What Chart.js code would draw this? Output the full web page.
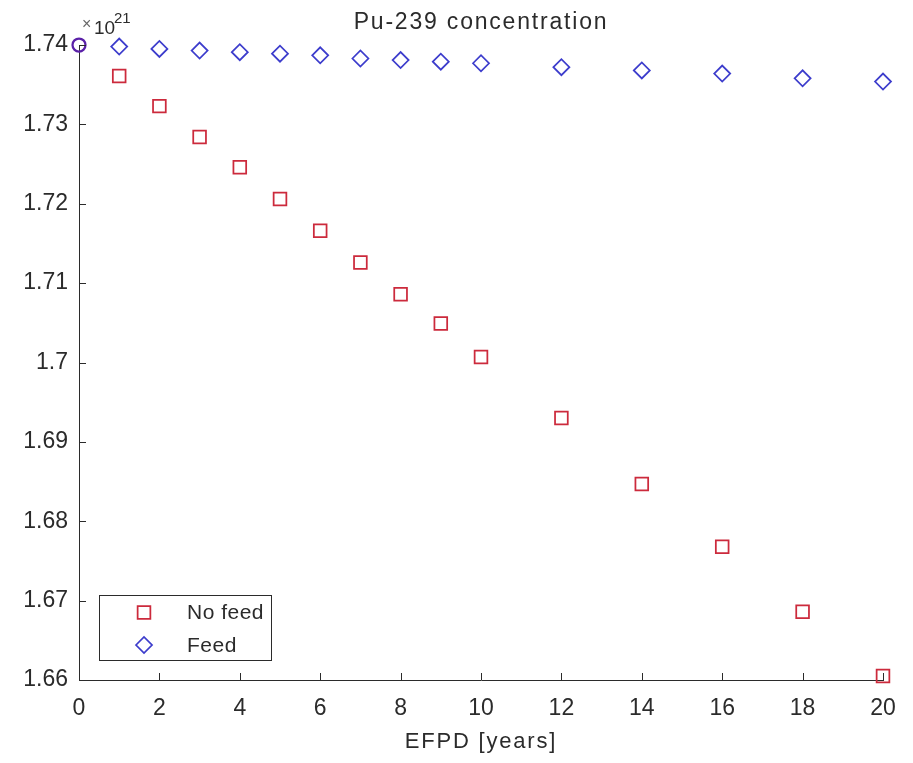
<!DOCTYPE html>
<html>
<head>
<meta charset="utf-8">
<title>Pu-239 concentration</title>
<script src="https://cdn.jsdelivr.net/npm/chart.js@4.4.1/dist/chart.umd.min.js"></script>
<style>
  html, body { margin: 0; padding: 0; background: #fff; }
  #wrap { width: 913px; height: 763px; }
</style>
</head>
<body>
<div id="wrap"><canvas id="pu239"></canvas></div>
<script>
// EFPD in years and Pu-239 atom count (x 1e21)
const years = [1, 2, 3, 4, 5, 6, 7, 8, 9, 10, 12, 14, 16, 18, 20];
const noFeed = [1.7361, 1.7323, 1.7284, 1.7246, 1.7206, 1.7166, 1.7126, 1.7086, 1.7049, 1.7007, 1.6930, 1.6847, 1.6768, 1.6686, 1.6605];
const feed = [1.7398, 1.7395, 1.7393, 1.7391, 1.7389, 1.7387, 1.7383, 1.7381, 1.7379, 1.7377, 1.7372, 1.7368, 1.7364, 1.7358, 1.7354];
const startYear = [0];
const startConc = [1.74];
const xTicks = [0, 2, 4, 6, 8, 10, 12, 14, 16, 18, 20];
const yTicks = [1.66, 1.67, 1.68, 1.69, 1.70, 1.71, 1.72, 1.73, 1.74];
const seriesNames = ['No feed', 'Feed'];

const INK = '#2b2b2b';
const RED = '#cc2a3c';
const BLUE = '#3c3ccc';
const PURPLE = '#5a20a8';
const FONT = '"Liberation Sans", Arial, sans-serif';

const toPoints = (xs, ys) => xs.map((x, i) => ({ x, y: ys[i] }));

// inward tick marks on the left and bottom axes
const innerTicks = {
  id: 'innerTicks',
  afterDatasetsDraw(chart) {
    const { ctx, chartArea, scales } = chart;
    ctx.save();
    ctx.strokeStyle = INK;
    ctx.lineWidth = 1;
    xTicks.forEach(v => {
      const px = Math.round(scales.x.getPixelForValue(v)) + 0.5;
      ctx.beginPath();
      ctx.moveTo(px, chartArea.bottom);
      ctx.lineTo(px, chartArea.bottom - 7);
      ctx.stroke();
    });
    yTicks.forEach(v => {
      const py = Math.round(scales.y.getPixelForValue(v)) + 0.5;
      ctx.beginPath();
      ctx.moveTo(chartArea.left, py);
      ctx.lineTo(chartArea.left + 7, py);
      ctx.stroke();
    });
    ctx.restore();
  }
};

// title, x label and exponent note
const labels = {
  id: 'labels',
  afterDraw(chart) {
    const { ctx, chartArea } = chart;
    const cx = (chartArea.left + chartArea.right) / 2;
    ctx.save();
    ctx.fillStyle = INK;
    ctx.textAlign = 'center';
    ctx.textBaseline = 'alphabetic';
    ctx.letterSpacing = '1.8px';
    ctx.font = '23px ' + FONT;
    ctx.fillText('Pu-239 concentration', cx, 29);
    ctx.font = '22px ' + FONT;
    ctx.fillText('EFPD [years]', cx, 748);

    ctx.letterSpacing = '0px';
    ctx.textAlign = 'left';
    ctx.fillStyle = '#666';
    ctx.font = '16px ' + FONT;
    ctx.fillText('\u00d7', chartArea.left + 3, 29);
    ctx.fillStyle = INK;
    ctx.font = '19px ' + FONT;
    ctx.fillText('10', chartArea.left + 15, 34);
    ctx.font = '15px ' + FONT;
    ctx.fillText('21', chartArea.left + 35, 23);
    ctx.restore();
  }
};

// boxed legend in the lower left corner
const boxLegend = {
  id: 'boxLegend',
  afterDraw(chart) {
    const { ctx } = chart;
    const sets = chart.data.datasets;
    const x0 = 99.5, y0 = 595.5, w = 172, h = 65;
    ctx.save();
    ctx.fillStyle = '#fff';
    ctx.fillRect(x0, y0, w, h);
    ctx.strokeStyle = INK;
    ctx.lineWidth = 1;
    ctx.strokeRect(x0, y0, w, h);
    seriesNames.forEach((name, i) => {
      const ds = sets[i];
      const my = 612.5 + i * 32.5;
      ctx.fillStyle = '#fff';
      ctx.strokeStyle = ds.borderColor;
      ctx.lineWidth = ds.borderWidth;
      Chart.helpers.drawPoint(ctx, {
        pointStyle: ds.pointStyle,
        radius: ds.pointRadius,
        borderWidth: ds.borderWidth
      }, 144, my);
      ctx.fillStyle = INK;
      ctx.font = '21px ' + FONT;
      ctx.letterSpacing = '0.5px';
      ctx.textAlign = 'left';
      ctx.textBaseline = 'middle';
      ctx.fillText(name, 187, my + 1);
    });
    ctx.restore();
  }
};

const data = {
  datasets: [
    {
      label: seriesNames[0],
      data: toPoints(years, noFeed),
      showLine: false,
      clip: false,
      pointStyle: 'rect',
      pointRadius: 9,
      borderWidth: 1.75,
      borderColor: RED,
      backgroundColor: 'rgba(0,0,0,0)'
    },
    {
      label: seriesNames[1],
      data: toPoints(years, feed),
      showLine: false,
      clip: false,
      pointStyle: 'rectRot',
      pointRadius: 8,
      borderWidth: 1.75,
      borderColor: BLUE,
      backgroundColor: 'rgba(0,0,0,0)'
    },
    {
      label: 'Start',
      data: toPoints(startYear, startConc),
      showLine: false,
      clip: false,
      pointStyle: 'circle',
      pointRadius: 6.5,
      borderWidth: 2.25,
      borderColor: PURPLE,
      backgroundColor: 'rgba(0,0,0,0)'
    }
  ]
};

new Chart(document.getElementById('pu239'), {
  type: 'scatter',
  data,
  options: {
    responsive: true,
    maintainAspectRatio: false,
    animation: false,
    layout: { padding: { top: 45, right: 30, left: 0, bottom: 0 } },
    plugins: {
      legend: { display: false },
      tooltip: { enabled: false },
      title: { display: false }
    },
    scales: {
      x: {
        type: 'linear',
        min: 0,
        max: 20,
        afterFit: s => { s.height = 83; },
        afterBuildTicks: s => { s.ticks = xTicks.map(v => ({ value: v })); },
        grid: { display: false, drawTicks: false },
        border: { display: true, color: INK, width: 1 },
        ticks: {
          color: INK,
          padding: 15,
          maxRotation: 0,
          font: { family: FONT, size: 23 }
        }
      },
      y: {
        type: 'linear',
        min: 1.66,
        max: 1.74,
        afterFit: s => { s.width = 79; },
        afterBuildTicks: s => { s.ticks = yTicks.map(v => ({ value: v })); },
        grid: { display: false, drawTicks: false },
        border: { display: true, color: INK, width: 1 },
        ticks: {
          color: INK,
          padding: 11,
          font: { family: FONT, size: 23 },
          callback: v => String(Number(v.toFixed(2)))
        }
      }
    }
  },
  plugins: [innerTicks, labels, boxLegend]
});
</script>
</body>
</html>
